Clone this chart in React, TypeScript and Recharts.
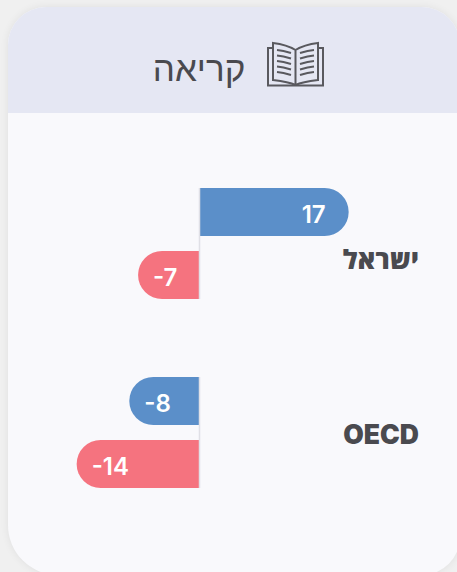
import React from "react";
import { BarChart, Bar, XAxis, YAxis, ReferenceLine, LabelList } from "recharts";

const regions = ["ישראל", "OECD"];
const blueValues = [17, -8];
const redValues = [-7, -14];

const rows = regions.map((region, i) => ({
  region,
  blue: blueValues[i],
  red: redValues[i],
}));

const TEXT = "#4a4a4f";

// the Hebrew label sits lower than the middle of its row in the original
const TICK_NUDGE: Record<string, number> = { "ישראל": 15, OECD: 1 };

function RegionTick({ x, y, payload }: any) {
  return (
    <text
      x={x + 36}
      y={y + (TICK_NUDGE[payload.value] ?? 0)}
      textAnchor="end"
      dominantBaseline="central"
      fill={TEXT}
      fontFamily="Inter, 'Open Sans', sans-serif"
      fontWeight={900}
      fontSize={26.5}
    >
      {payload.value}
    </text>
  );
}

function ValueLabel({ x, y, width, height, value }: any) {
  const positive = value > 0;
  const end = x + width;
  return (
    <text
      x={positive ? end - 23 : end + 15}
      y={y + height / 2 + 2}
      textAnchor={positive ? "end" : "start"}
      dominantBaseline="central"
      fill="#ffffff"
      fontFamily="Inter, sans-serif"
      fontWeight={600}
      fontSize={24}
    >
      {value}
    </text>
  );
}

function BookIcon() {
  return (
    <svg
      width={457}
      height={572}
      style={{ position: "absolute", left: 0, top: 0 }}
      fill="none"
      stroke="#59595e"
      strokeWidth={2}
    >
      <path d="M272 48 H268 V85.5 H323 V48 H319" />
      <path d="M295.5 50 C289 46 281 44 273 43 V80 C281 81 289 82 295.5 85 C302 82 310 81 318 80 V43 C310 44 302 46 295.5 50 V85" />
      <path d="M277 50 C282 50.5 286 51.5 291 53 M277 55.5 C282 56 286 57 291 58.5 M277 61 C282 61.5 286 62.5 291 64 M277 66.5 C282 67 286 68 291 69.5 M277 72 C282 72.5 286 73.5 291 75 M314 50 C309 50.5 305 51.5 300 53 M314 55.5 C309 56 305 57 300 58.5 M314 61 C309 61.5 305 62.5 300 64 M314 66.5 C309 67 305 68 300 69.5 M314 72 C309 72.5 305 73.5 300 75" />
    </svg>
  );
}

export default function App() {
  return (
    <div style={{ position: "fixed", left: 0, top: 0, width: 457, height: 572, overflow: "hidden", background: "#f0f0f0" }}>
      {/* Card */}
      <div
        style={{
          position: "absolute",
          left: 8,
          top: 7,
          width: 452,
          height: 568,
          background: "#f9f9fc",
          borderRadius: "38px 38px 38px 50px",
          boxShadow: "0 0 8px rgba(0,0,0,0.07)",
          overflow: "hidden",
        }}
      >
        <div style={{ height: 106, background: "#e5e7f3" }} />
      </div>

      {/* Title */}
      <div
        dir="rtl"
        style={{
          position: "absolute",
          left: 144,
          top: 44,
          width: 110,
          textAlign: "center",
          fontFamily: "'Liberation Sans', sans-serif",
          fontSize: 35,
          lineHeight: "50px",
          color: TEXT,
          whiteSpace: "nowrap",
        }}
      >
        קריאה
      </div>
      <BookIcon />

      <div style={{ position: "absolute", left: 0, top: 0 }}>
        <BarChart
          width={457}
          height={572}
          data={rows}
          layout="vertical"
          barSize={48}
          barGap={15}
          margin={{ top: 149, right: 0, bottom: 45, left: 24 }}
        >
          <XAxis type="number" domain={[-20, 20]} hide />
          <YAxis
            type="category"
            dataKey="region"
            orientation="right"
            width={82}
            axisLine={false}
            tickLine={false}
            tick={<RegionTick />}
          />
          <Bar dataKey="blue" fill="#5b8fc9" radius={[0, 24, 24, 0]} isAnimationActive={false}>
            <LabelList dataKey="blue" content={<ValueLabel />} />
          </Bar>
          <Bar dataKey="red" fill="#f5737f" radius={[0, 24, 24, 0]} isAnimationActive={false}>
            <LabelList dataKey="red" content={<ValueLabel />} />
          </Bar>
          <ReferenceLine x={0} stroke="#e0e0e6" strokeWidth={1.5} strokeDasharray="0 39 111 78 111 39" />
        </BarChart>
      </div>
    </div>
  );
}
